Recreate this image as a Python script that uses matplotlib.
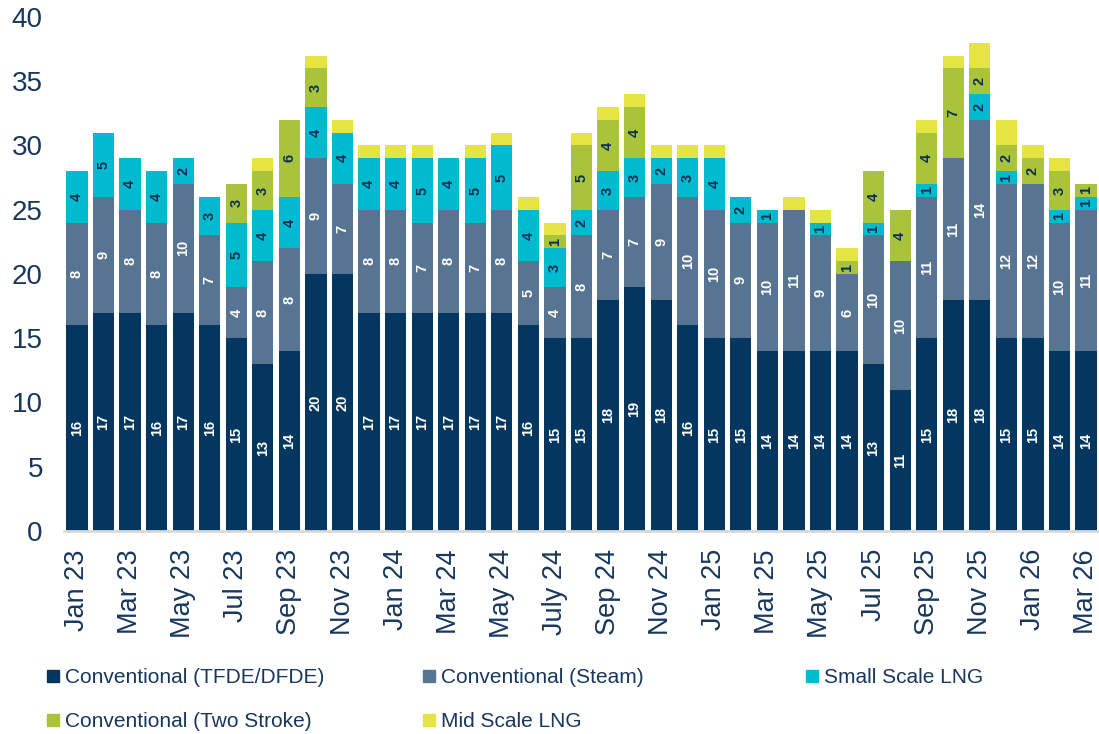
import matplotlib
matplotlib.use("Agg")
import matplotlib.pyplot as plt
from matplotlib.lines import Line2D
import numpy as np

plt.rcParams['font.family'] = ['Liberation Sans', 'DejaVu Sans']

months = ["Jan 23", "Feb 23", "Mar 23", "Apr 23", "May 23", "Jun 23", "Jul 23", "Aug 23",
          "Sep 23", "Oct 23", "Nov 23", "Dec 23", "Jan 24", "Feb 24", "Mar 24", "Apr 24",
          "May 24", "Jun 24", "July 24", "Aug 24", "Sep 24", "Oct 24", "Nov 24", "Dec 24",
          "Jan 25", "Feb 25", "Mar 25", "Apr 25", "May 25", "Jun 25", "Jul 25", "Aug 25",
          "Sep 25", "Oct 25", "Nov 25", "Dec 25", "Jan 26", "Feb 26", "Mar 26"]

tfde = [16, 17, 17, 16, 17, 16, 15, 13, 14, 20, 20, 17, 17, 17, 17, 17, 17, 16, 15, 15,
        18, 19, 18, 16, 15, 15, 14, 14, 14, 14, 13, 11, 15, 18, 18, 15, 15, 14, 14]
steam = [8, 9, 8, 8, 10, 7, 4, 8, 8, 9, 7, 8, 8, 7, 8, 7, 8, 5, 4, 8,
         7, 7, 9, 10, 10, 9, 10, 11, 9, 6, 10, 10, 11, 11, 14, 12, 12, 10, 11]
small = [4, 5, 4, 4, 2, 3, 5, 4, 4, 4, 4, 4, 4, 5, 4, 5, 5, 4, 3, 2,
         3, 3, 2, 3, 4, 2, 1, 0, 1, 0, 1, 0, 1, 0, 2, 1, 0, 1, 1]
two_stroke = [0, 0, 0, 0, 0, 0, 3, 3, 6, 3, 0, 0, 0, 0, 0, 0, 0, 0, 1, 5,
              4, 4, 0, 0, 0, 0, 0, 0, 0, 1, 4, 4, 4, 7, 2, 2, 2, 3, 1]
mid = [0, 0, 0, 0, 0, 0, 0, 1, 0, 1, 1, 1, 1, 1, 0, 1, 1, 1, 1, 1,
       1, 1, 1, 1, 1, 0, 0, 1, 1, 1, 0, 0, 1, 1, 2, 2, 1, 1, 0]

series_names = ["Conventional (TFDE/DFDE)", "Conventional (Steam)", "Small Scale LNG",
                "Conventional (Two Stroke)", "Mid Scale LNG"]
series = [tfde, steam, small, two_stroke, mid]
colors = ["#03375F", "#587493", "#00BBCF", "#A9C43A", "#E5E443"]
label_colors = ["white", "white", "#0B2F55", "#0B2F55", None]
text_color = "#17375E"

fig = plt.figure(figsize=(10.99, 7.34), dpi=100)
ax = fig.add_axes([63.7 / 1099, 1 - 531 / 734, (1099.3 - 63.7) / 1099, (531 - 17) / 734])

x = np.arange(len(months))
bottom = np.zeros(len(months))
for vals, name, col, lc in zip(series, series_names, colors, label_colors):
    v = np.array(vals, dtype=float)
    bars = ax.bar(x, v, 0.8, bottom=bottom, color=col, label=name, linewidth=0)
    if lc is not None:
        labs = [str(int(a)) if a > 0 else "" for a in v]
        ax.bar_label(bars, labels=labs, label_type='center', rotation=90,
                     color=lc, fontsize=10.5, fontweight='bold')
    bottom += v

ax.set_xlim(-0.5, len(months) - 0.5)
ax.set_ylim(0, 40)
ax.set_yticks(range(0, 41, 5))
ax.set_xticks(x[::2])
ax.set_xticklabels(months[::2], rotation=90)
ax.tick_params(axis='y', length=0, pad=15, labelsize=20, labelcolor=text_color)
ax.tick_params(axis='x', length=0, pad=13, labelsize=19.5, labelcolor=text_color)
for s in ['top', 'right', 'left']:
    ax.spines[s].set_visible(False)
ax.spines['bottom'].set_color("#D9D9D9")
ax.spines['bottom'].set_linewidth(2)

def handle(c):
    return Line2D([], [], marker='s', linestyle='none', markersize=8.6,
                  markerfacecolor=c, markeredgecolor=c)

cols = [([0, 3], 47), ([1, 4], 423), ([2], 806)]
for idxs, xpos in cols:
    leg = fig.legend([handle(colors[i]) for i in idxs], [series_names[i] for i in idxs],
                     loc='upper left', bbox_to_anchor=(xpos / 1099, 1 - 668 / 734),
                     frameon=False, fontsize=15, handlelength=0.6, handletextpad=0.25,
                     borderpad=0, borderaxespad=0, labelspacing=1.2, labelcolor=text_color)

fig.savefig("out.png", dpi=100)
